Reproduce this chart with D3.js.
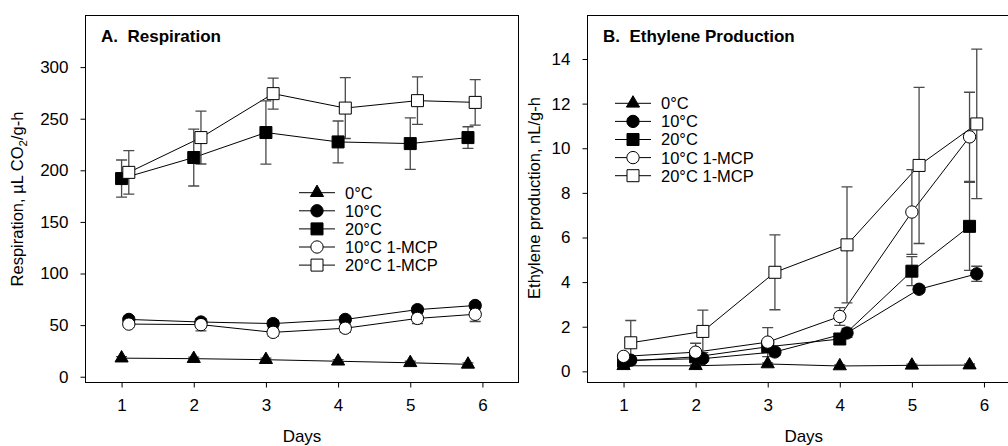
<!DOCTYPE html>
<html>
<head>
<meta charset="utf-8">
<script src="https://cdn.jsdelivr.net/npm/d3@7"></script>
<style>
  body { margin: 0; background: #fff; }
  svg { font-family: "Liberation Sans", Arial, sans-serif; }
  .tick text { font-size: 17px; fill: #000; }
  .tick line { stroke: #000; }
</style>
</head>
<body>
<svg id="chart" width="1008" height="446"></svg>
<script>
// categories / tick labels
const xTicks = [1, 2, 3, 4, 5, 6];
const dayBase = [1, 2, 3, 4, 5, 5.8];     // sampling days as plotted
const dayShift = [1.1, 2.1, 3.1, 4.1, 5.1, 5.9];
const seriesNames = ['0°C', '10°C', '20°C', '10°C 1-MCP', '20°C 1-MCP'];
const respTicks = [0, 50, 100, 150, 200, 250, 300];
const ethTicks = [0, 2, 4, 6, 8, 10, 12, 14];

// A. respiration (uL CO2/g-h), mean and error
const resp0 = [18, 17.5, 16.5, 15, 13.5, 12];
const resp0Err = [1.5, 1.5, 1.5, 1.5, 1.5, 1.5];
const resp10 = [55.5, 53, 51.5, 55.5, 65, 69];
const resp10Err = [3, 3, 3, 3, 3, 3];
const resp20 = [192, 212.4, 236.6, 227.5, 225.9, 231.7];
const resp20Err = [18, 27.6, 30.7, 20.3, 25, 10.5];
const resp10m = [51, 50.5, 43, 47, 56.5, 60.5];
const resp10mErr = [3, 6, 4, 4, 5, 7];
const resp20m = [198, 231.7, 274.3, 260.3, 267.5, 265.8];
const resp20mErr = [21, 25.6, 15, 29.5, 23, 22];

// B. ethylene production (nL/g-h), mean and error
const eth0 = [0.25, 0.25, 0.33, 0.24, 0.27, 0.28];
const eth0Err = [0.05, 0.05, 0.05, 0.05, 0.05, 0.05];
const eth10 = [0.5, 0.57, 0.87, 1.72, 3.68, 4.37];
const eth10Err = [0.1, 0.1, 0.15, 0.2, 0.15, 0.34];
const eth20 = [0.45, 0.65, 1.1, 1.45, 4.49, 6.5];
const eth20Err = [0.1, 0.15, 0.2, 0.2, 0.65, 1.97];
const eth10m = [0.67, 0.86, 1.31, 2.46, 7.14, 10.51];
const eth10mErr = [0.1, 0.4, 0.65, 0.4, 1.9, 2.0];
const eth20m = [1.28, 1.79, 4.44, 5.67, 9.23, 11.09];
const eth20mErr = [1.0, 0.95, 1.68, 2.6, 3.5, 3.35];

const symbols = [d3.symbolTriangle, d3.symbolCircle, d3.symbolSquare, d3.symbolCircle, d3.symbolSquare];
const symbolSizes = [75, 120, 144, 120, 144];
const filled = [true, true, true, false, false];

const svg = d3.select('#chart');

function drawPanel(p) {
  let x = d3.scaleLinear().domain([0.5, 6.5]).range([p.left, p.right]);
  let y = d3.scaleLinear().domain(p.yDomain).range([p.bottom, p.top]);
  let g = svg.append('g');

  // frame
  g.append('rect')
    .attr('x', p.left).attr('y', p.top)
    .attr('width', p.right - p.left).attr('height', p.bottom - p.top)
    .attr('fill', 'none').attr('stroke', '#000').attr('stroke-width', 1);

  let xAxis = g.append('g')
    .attr('transform', 'translate(0,' + p.bottom + ')')
    .call(d3.axisBottom(x).tickValues(xTicks).tickFormat(d3.format('d'))
      .tickSize(5).tickSizeOuter(0).tickPadding(11));
  xAxis.select('.domain').remove();

  let yAxis = g.append('g')
    .attr('transform', 'translate(' + p.left + ',0)')
    .call(d3.axisLeft(y).tickValues(p.yTicks).tickFormat(d3.format('d'))
      .tickSize(5).tickSizeOuter(0).tickPadding(12));
  yAxis.select('.domain').remove();

  // titles
  g.append('text')
    .attr('x', p.left + 15.5).attr('y', 41.5)
    .attr('font-size', 17).attr('font-weight', 'bold')
    .style('white-space', 'pre')
    .text(p.title);

  g.append('text')
    .attr('x', (p.left + x(6.5)) / 2).attr('y', 441.5)
    .attr('text-anchor', 'middle').attr('font-size', 17)
    .text('Days');

  let yl = g.append('text')
    .attr('transform', 'translate(' + p.yLabelX + ',' + p.yLabelY + ') rotate(-90)')
    .attr('text-anchor', 'middle').attr('font-size', 16.5);
  p.yLabel(yl);

  let line = d3.line().x(d => x(d.x)).y(d => y(d.v));
  let series = p.values.map((vals, i) => vals.map((v, j) => ({x: p.pos[i][j], v: v, e: p.errs[i][j]})));

  // connecting lines
  series.forEach(s => {
    g.append('path').datum(s)
      .attr('d', line)
      .attr('fill', 'none').attr('stroke', '#000').attr('stroke-width', 1);
  });

  // error bars
  series.forEach(s => {
    let eb = g.append('g').attr('stroke', '#4a4a4a').attr('stroke-width', 1.3).attr('fill', 'none');
    eb.selectAll('path').data(s).join('path')
      .attr('d', d => {
        let cx = x(d.x), y1 = y(d.v + d.e), y0 = y(d.v - d.e);
        return 'M' + cx + ',' + y0 + 'V' + y1 +
          'M' + (cx - 5.5) + ',' + y1 + 'H' + (cx + 5.5) +
          'M' + (cx - 5.5) + ',' + y0 + 'H' + (cx + 5.5);
      });
  });

  // markers
  series.forEach((s, i) => {
    g.append('g').selectAll('path').data(s).join('path')
      .attr('transform', d => 'translate(' + x(d.x) + ',' + y(d.v) + ')')
      .attr('d', d3.symbol().type(symbols[i]).size(symbolSizes[i]))
      .attr('fill', filled[i] ? '#000' : '#fff')
      .attr('stroke', '#000').attr('stroke-width', 1);
  });

  // legend
  let lg = g.append('g').attr('transform', 'translate(' + p.legendX + ',' + p.legendY + ')');
  seriesNames.forEach((name, i) => {
    let row = lg.append('g').attr('transform', 'translate(0,' + (i * 18.1) + ')');
    row.append('line').attr('x1', 0).attr('x2', 36).attr('y1', 0).attr('y2', 0)
      .attr('stroke', '#000').attr('stroke-width', 1);
    row.append('path')
      .attr('transform', 'translate(18,0)')
      .attr('d', d3.symbol().type(symbols[i]).size(symbolSizes[i])())
      .attr('fill', filled[i] ? '#000' : '#fff')
      .attr('stroke', '#000').attr('stroke-width', 1);
    row.append('text').attr('x', 46).attr('y', 0).attr('dy', '0.36em')
      .attr('font-size', 16.5).text(name);
  });
}

drawPanel({
  left: 85.5, right: 518.5, top: 15.5, bottom: 382.5,
  yDomain: [-5.6, 350], yTicks: respTicks,
  title: 'A.  Respiration',
  yLabelX: 23, yLabelY: 199,
  yLabel: t => {
    t.append('tspan').text('Respiration, µL CO');
    t.append('tspan').attr('font-size', 11.5).attr('dy', 4).text('2');
    t.append('tspan').attr('dy', -4).text('/g-h');
  },
  values: [resp0, resp10, resp20, resp10m, resp20m],
  errs: [resp0Err, resp10Err, resp20Err, resp10mErr, resp20mErr],
  pos: [dayBase, dayShift, dayBase, dayShift, dayShift],
  legendX: 299, legendY: 192.7
});

drawPanel({
  left: 587.5, right: 1020, top: 15.5, bottom: 382.5,
  yDomain: [-0.5, 15.95], yTicks: ethTicks,
  title: 'B.  Ethylene Production',
  yLabelX: 540, yLabelY: 198,
  yLabel: t => t.text('Ethylene production, nL/g-h'),
  values: [eth0, eth10, eth20, eth10m, eth20m],
  errs: [eth0Err, eth10Err, eth20Err, eth10mErr, eth20mErr],
  pos: [dayBase, dayShift, dayBase, dayBase, dayShift],
  legendX: 615, legendY: 103.3
});
</script>
</body>
</html>
